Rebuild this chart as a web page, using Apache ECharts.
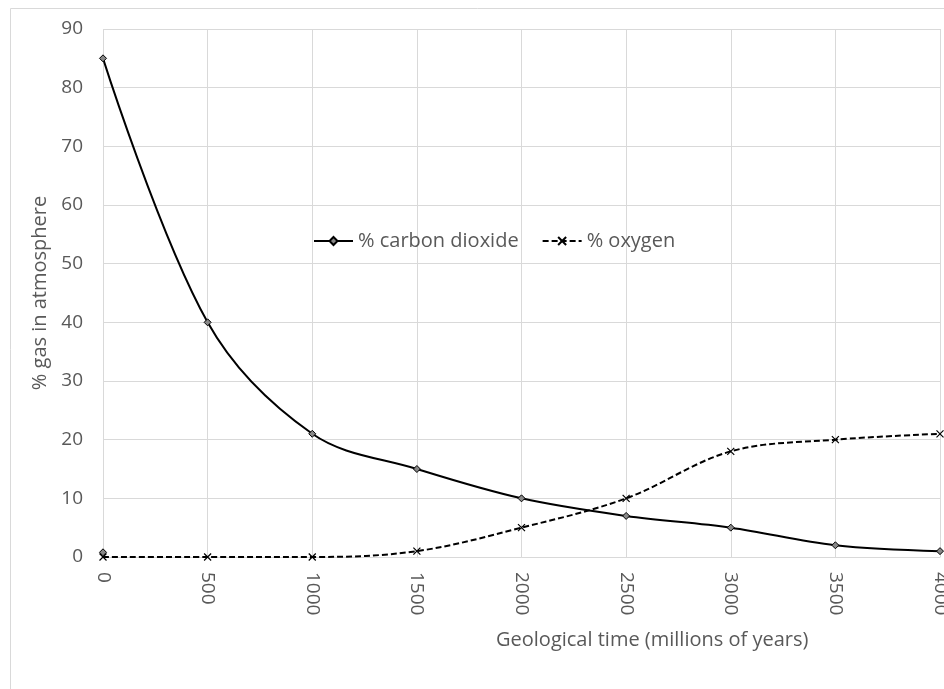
<!DOCTYPE html>
<html><head><meta charset="utf-8">
<script src="https://cdn.jsdelivr.net/npm/echarts@6/dist/echarts.min.js"></script>
<style>html,body{margin:0;padding:0;background:#fff}#c{width:944px;height:689px}</style>
</head><body><div id="c"></div>
<script>
const categories = ['0','500','1000','1500','2000','2500','3000','3500','4000'];
const co2 = [85, 40, 21, 15, 10, 7, 5, 2, 1];
const oxygen = [0, 0, 0, 1, 5, 10, 18, 20, 21];
const stray = [0.8, null, null, null, null, null, null, null, null];
const yTicks = {min: 0, max: 90, interval: 10};

const chart = echarts.init(document.getElementById('c'));
const font = '"Open Sans", "Liberation Sans", sans-serif';
const xSym = 'path://M0,0L10,10M10,0L0,10';
chart.setOption({
  animation: false,
  graphic: [
    {type: 'rect', shape: {x: 10.5, y: 8.5, width: 960, height: 720}, style: {fill: 'none', stroke: '#d9d9d9', lineWidth: 1}, z: -1},
    {type: 'text', left: 496, top: 630, style: {text: 'Geological time (millions of years)', fill: '#595959', font: '20px ' + font}}
  ],
  grid: {left: 103, right: 4, top: 29, bottom: 132, containLabel: false, outerBoundsMode: 'none'},
  legend: {
    left: 308, top: 226,
    itemWidth: 39, itemHeight: 10, itemGap: 23,
    textStyle: {color: '#595959', fontSize: 20, fontFamily: font},
    data: ['% carbon dioxide', '% oxygen']
  },
  xAxis: {
    type: 'category', data: categories, boundaryGap: false,
    axisLine: {lineStyle: {color: '#d9d9d9'}},
    axisTick: {show: false},
    axisLabel: {rotate: -90, color: '#595959', fontSize: 19, fontFamily: font, margin: 15, hideOverlap: false},
    splitLine: {show: true, lineStyle: {color: '#d9d9d9'}}
  },
  yAxis: {
    type: 'value', min: yTicks.min, max: yTicks.max, interval: yTicks.interval,
    name: '% gas in atmosphere', nameLocation: 'middle', nameGap: 48,
    nameTextStyle: {color: '#595959', fontSize: 20, fontFamily: font},
    axisLine: {show: false}, axisTick: {show: false},
    axisLabel: {color: '#595959', fontSize: 19, fontFamily: font, margin: 20},
    splitLine: {lineStyle: {color: '#d9d9d9'}}
  },
  series: [
    {name: '% carbon dioxide', type: 'line', data: co2, smooth: 0.35,
     symbol: 'diamond', symbolSize: 7,
     lineStyle: {color: '#000', width: 2},
     itemStyle: {color: '#888', borderColor: '#000', borderWidth: 1}, z: 3},
    {name: '% oxygen', type: 'line', data: oxygen, smooth: 0.35,
     symbol: xSym, symbolSize: 7,
     lineStyle: {color: '#000', width: 2, type: [6, 3]},
     itemStyle: {color: 'none', borderColor: '#000', borderWidth: 1.2}, z: 2},
    {name: 'stray', type: 'line', data: stray, showSymbol: true,
     symbol: 'diamond', symbolSize: 7, lineStyle: {width: 0},
     itemStyle: {color: '#888', borderColor: '#000', borderWidth: 1}, z: 3}
  ]
});
</script></body></html>
